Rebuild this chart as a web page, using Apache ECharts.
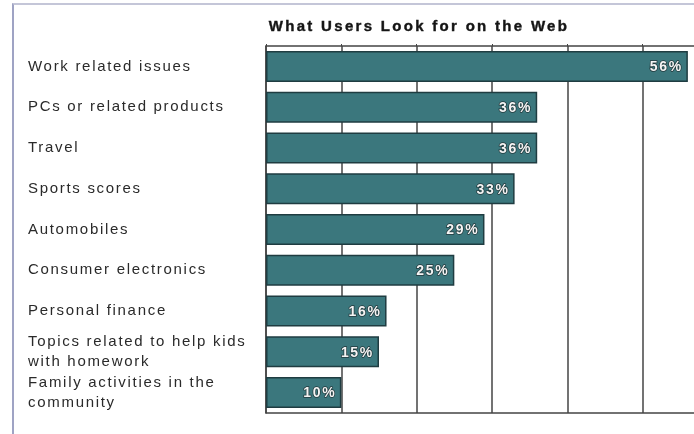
<!DOCTYPE html>
<html>
<head>
<meta charset="utf-8">
<script src="https://cdn.jsdelivr.net/npm/echarts@6/dist/echarts.min.js"></script>
<style>
  html, body { margin: 0; padding: 0; background: #ffffff; overflow: hidden; width: 694px; height: 434px; }
  #frame { position: absolute; left: 12px; top: 3px; width: 700px; height: 440px;
           border-left: 2px solid #9fa3c4; border-top: 2px solid #c4c6d8; box-sizing: border-box; }
  /* the plot runs past the right edge of the page, so the canvas is wider than the view */
  #chart { position: absolute; left: 0; top: 0; width: 740px; height: 434px; }
</style>
</head>
<body>
<div id="frame"></div>
<div id="chart"></div>
<script>
// Share of users looking for each topic on the web (%)
const categories = [
  'Work related issues',
  'PCs or related products',
  'Travel',
  'Sports scores',
  'Automobiles',
  'Consumer electronics',
  'Personal finance',
  'Topics related to help kids\nwith homework',
  'Family activities in the\ncommunity'
];
const shares = [56, 36, 36, 33, 29, 25, 16, 15, 10];
const titleText = 'What Users Look for on the Web';

// Wide-tracked lettering for all canvas text
(function () {
  const proto = CanvasRenderingContext2D.prototype;
  const fill = proto.fillText, stroke = proto.strokeText;
  function track(ctx) {
    const big = /bold/.test(ctx.font) && /1[5-9]px/.test(ctx.font);
    ctx.letterSpacing = big ? '2.3px' : '1.7px';
  }
  proto.fillText = function () { track(this); return fill.apply(this, arguments); };
  proto.strokeText = function () { track(this); return stroke.apply(this, arguments); };
})();

const chart = echarts.init(document.getElementById('chart'), null, { renderer: 'canvas' });

const gridColor = '#444444';
const labelFont = 'Liberation Sans, Arial, sans-serif';

chart.setOption({
  backgroundColor: 'transparent',
  animation: false,
  title: {
    text: titleText,
    left: 414,
    top: 14,
    textAlign: 'center',
    textStyle: {
      fontFamily: labelFont, fontSize: 15, fontWeight: 'bold', color: '#151515',
      textBorderColor: '#151515', textBorderWidth: 0.4
    }
  },
  grid: { left: 266, top: 46, width: 452, bottom: 21, containLabel: false },
  xAxis: [
    {
      type: 'value', min: 0, max: 60, interval: 10, position: 'bottom',
      axisLine: { show: true, lineStyle: { color: gridColor, width: 1.5 } },
      axisTick: { show: false },
      axisLabel: { show: false },
      splitLine: { show: true, lineStyle: { color: gridColor, width: 1.5 } }
    },
    {
      type: 'value', min: 0, max: 60, interval: 10, position: 'top',
      axisLine: { show: true, lineStyle: { color: gridColor, width: 1.5 } },
      axisTick: { show: true, inside: false, length: 2, lineStyle: { color: gridColor } },
      axisLabel: { show: false },
      splitLine: { show: false }
    }
  ],
  yAxis: {
    type: 'category',
    data: categories,
    inverse: true,
    axisLine: { show: true, lineStyle: { color: gridColor, width: 1.5 } },
    axisTick: { show: false },
    axisLabel: {
      align: 'left',
      margin: 238,
      fontFamily: labelFont,
      fontSize: 15,
      lineHeight: 20,
      color: '#2a2a2a'
    }
  },
  series: [{
    type: 'bar',
    data: shares,
    barWidth: 31,
    itemStyle: { color: '#3b777d', borderColor: '#1f3c41', borderWidth: 1.5 },
    label: {
      show: true,
      position: 'insideRight',
      offset: [0, 1],
      formatter: p => p.value + '%',
      fontFamily: labelFont,
      fontSize: 14,
      fontWeight: 'bold',
      color: '#f4f4f4',
      textBorderColor: '#23393c',
      textBorderWidth: 1.5
    }
  }]
});
</script>
</body>
</html>
